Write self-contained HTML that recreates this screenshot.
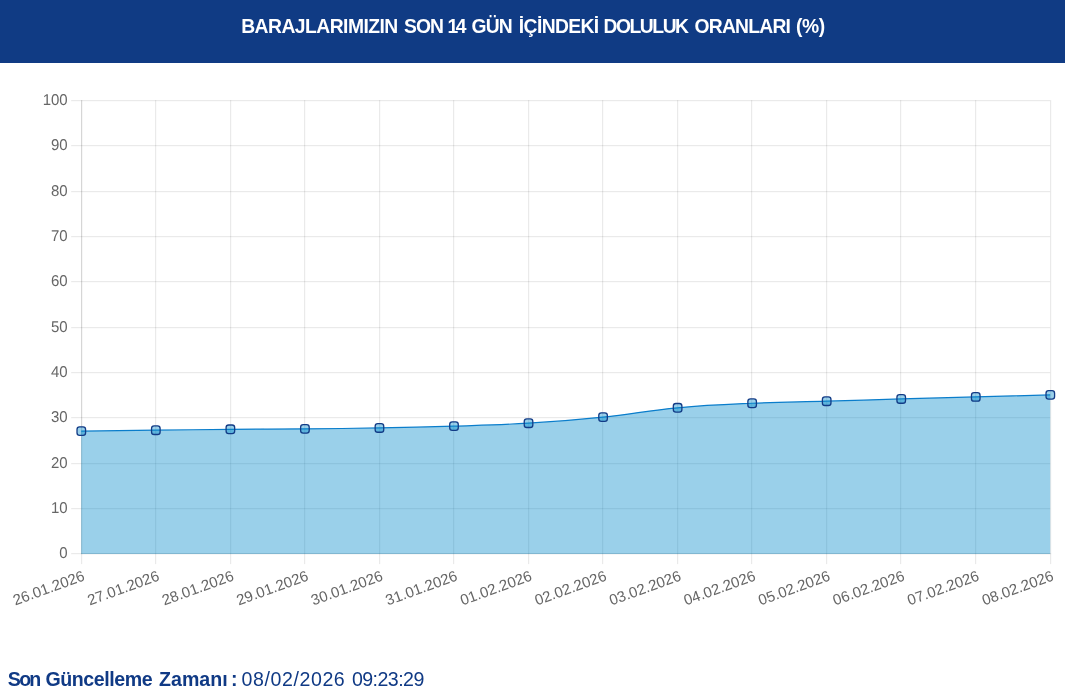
<!DOCTYPE html>
<html lang="tr"><head><meta charset="utf-8"><title>Baraj Doluluk Oranları</title>
<style>
html,body{margin:0;padding:0;background:#fff;}
body{width:1065px;height:695px;position:relative;overflow:hidden;font-family:"Liberation Sans",Arial,sans-serif;}
.hdr{position:absolute;left:0;top:0;width:1065px;height:63px;background:#103b84;color:#fff;font-weight:bold;font-size:19.3px;line-height:63px;white-space:nowrap;}
.hdr span{position:absolute;top:-5px;}
.ftr{position:absolute;left:0;top:667px;width:1065px;height:24px;color:#103a85;font-size:19.6px;line-height:24px;white-space:nowrap;}
.ftr b,.ftr span{position:absolute;top:0;}
.ftr b{font-weight:bold;}
</style></head><body>
<div class="hdr"><span style="left:241.20px;letter-spacing:-0.523px">BARAJLARIMIZIN</span> <span style="left:403.90px;letter-spacing:-0.85px">SON</span> <span style="left:447.55px;letter-spacing:-2.6px">14</span> <span style="left:471.50px;letter-spacing:-0.85px">GÜN</span> <span style="left:518.80px;letter-spacing:-0.6px">İÇİNDEKİ</span> <span style="left:603.40px;letter-spacing:-1.433px">DOLULUK</span> <span style="left:694.50px;letter-spacing:-0.757px">ORANLARI</span> <span style="left:796.10px;letter-spacing:-0.45px">(%)</span></div>
<svg width="1065" height="560" viewBox="0 70 1065 560" style="position:absolute;left:0;top:70px">
<g transform="translate(0.2 0.2)">
<g stroke-width="1" fill="none" stroke="rgba(0,0,0,0.1)"><path d="M71 553.5 H1050"/><path d="M71 508.5 H1050"/><path d="M71 463.5 H1050"/><path d="M71 417.5 H1050"/><path d="M71 372.5 H1050"/><path d="M71 327.5 H1050"/><path d="M71 281.5 H1050"/><path d="M71 236.5 H1050"/><path d="M71 191.5 H1050"/><path d="M71 145.5 H1050"/><path d="M71 100.5 H1050"/><path d="M81.5 100 V563.9"/><path d="M155.5 100 V563.9"/><path d="M230.5 100 V563.9"/><path d="M304.5 100 V563.9"/><path d="M379.5 100 V563.9"/><path d="M453.5 100 V563.9"/><path d="M528.5 100 V563.9"/><path d="M602.5 100 V563.9"/><path d="M677.5 100 V563.9"/><path d="M751.5 100 V563.9"/><path d="M826.5 100 V563.9"/><path d="M900.5 100 V563.9"/><path d="M975.5 100 V563.9"/><path d="M1050.5 100 V563.9"/><path d="M81.5 100 V554"/><path d="M81 553.5 H1051"/></g>
<path d="M81.00 430.92 C110.82 430.55 125.72 430.37 155.54 430.01 C185.35 429.65 200.26 429.38 230.08 429.10 C259.89 428.83 274.80 428.92 304.62 428.65 C334.43 428.38 349.34 428.29 379.15 427.75 C408.97 427.20 423.88 426.88 453.69 425.93 C483.51 424.98 498.45 424.80 528.23 422.99 C558.08 421.17 573.02 419.95 602.77 416.87 C632.65 413.79 647.40 410.36 677.31 407.59 C707.04 404.83 722.01 404.37 751.85 403.06 C781.64 401.74 796.57 401.88 826.38 401.02 C856.20 400.16 871.11 399.61 900.92 398.75 C930.74 397.89 945.65 397.53 975.46 396.72 C1005.28 395.90 1020.18 395.49 1050.00 394.68 L1050.00 553.85 L81.00 553.85 Z" fill="rgba(2,137,203,0.4)"/>
<path d="M81.00 430.92 C110.82 430.55 125.72 430.37 155.54 430.01 C185.35 429.65 200.26 429.38 230.08 429.10 C259.89 428.83 274.80 428.92 304.62 428.65 C334.43 428.38 349.34 428.29 379.15 427.75 C408.97 427.20 423.88 426.88 453.69 425.93 C483.51 424.98 498.45 424.80 528.23 422.99 C558.08 421.17 573.02 419.95 602.77 416.87 C632.65 413.79 647.40 410.36 677.31 407.59 C707.04 404.83 722.01 404.37 751.85 403.06 C781.64 401.74 796.57 401.88 826.38 401.02 C856.20 400.16 871.11 399.61 900.92 398.75 C930.74 397.89 945.65 397.53 975.46 396.72 C1005.28 395.90 1020.18 395.49 1050.00 394.68" fill="none" stroke="#0a7dcb" stroke-width="1.2"/>
<g fill="rgba(2,137,203,0.4)" stroke="#123b86" stroke-width="1.3"><rect x="76.81" y="426.63" width="8.58" height="8.58" rx="2.58"/><rect x="151.35" y="425.72" width="8.58" height="8.58" rx="2.58"/><rect x="225.89" y="424.81" width="8.58" height="8.58" rx="2.58"/><rect x="300.43" y="424.36" width="8.58" height="8.58" rx="2.58"/><rect x="374.96" y="423.46" width="8.58" height="8.58" rx="2.58"/><rect x="449.50" y="421.64" width="8.58" height="8.58" rx="2.58"/><rect x="524.04" y="418.70" width="8.58" height="8.58" rx="2.58"/><rect x="598.58" y="412.58" width="8.58" height="8.58" rx="2.58"/><rect x="673.12" y="403.30" width="8.58" height="8.58" rx="2.58"/><rect x="747.66" y="398.77" width="8.58" height="8.58" rx="2.58"/><rect x="822.19" y="396.73" width="8.58" height="8.58" rx="2.58"/><rect x="896.73" y="394.46" width="8.58" height="8.58" rx="2.58"/><rect x="971.27" y="392.43" width="8.58" height="8.58" rx="2.58"/><rect x="1045.81" y="390.39" width="8.58" height="8.58" rx="2.58"/></g>
<g font-family="'Liberation Sans', Arial, sans-serif" font-size="15" fill="#666" text-rendering="geometricPrecision"><text transform="translate(67.5 557.50) scale(1 1.04)" text-anchor="end">0</text><text transform="translate(67.5 512.50) scale(1 1.04)" text-anchor="end">10</text><text transform="translate(67.5 467.50) scale(1 1.04)" text-anchor="end">20</text><text transform="translate(67.5 421.50) scale(1 1.04)" text-anchor="end">30</text><text transform="translate(67.5 376.50) scale(1 1.04)" text-anchor="end">40</text><text transform="translate(67.5 331.50) scale(1 1.04)" text-anchor="end">50</text><text transform="translate(67.5 285.50) scale(1 1.04)" text-anchor="end">60</text><text transform="translate(67.5 240.50) scale(1 1.04)" text-anchor="end">70</text><text transform="translate(67.5 195.50) scale(1 1.04)" text-anchor="end">80</text><text transform="translate(67.5 149.50) scale(1 1.04)" text-anchor="end">90</text><text transform="translate(67.5 104.50) scale(1 1.04)" text-anchor="end">100</text><text transform="translate(83.80 575) rotate(-20)" text-anchor="end" y="5">26.01.2026</text><text transform="translate(158.34 575) rotate(-20)" text-anchor="end" y="5">27.01.2026</text><text transform="translate(232.88 575) rotate(-20)" text-anchor="end" y="5">28.01.2026</text><text transform="translate(307.42 575) rotate(-20)" text-anchor="end" y="5">29.01.2026</text><text transform="translate(381.95 575) rotate(-20)" text-anchor="end" y="5">30.01.2026</text><text transform="translate(456.49 575) rotate(-20)" text-anchor="end" y="5">31.01.2026</text><text transform="translate(531.03 575) rotate(-20)" text-anchor="end" y="5">01.02.2026</text><text transform="translate(605.57 575) rotate(-20)" text-anchor="end" y="5">02.02.2026</text><text transform="translate(680.11 575) rotate(-20)" text-anchor="end" y="5">03.02.2026</text><text transform="translate(754.65 575) rotate(-20)" text-anchor="end" y="5">04.02.2026</text><text transform="translate(829.18 575) rotate(-20)" text-anchor="end" y="5">05.02.2026</text><text transform="translate(903.72 575) rotate(-20)" text-anchor="end" y="5">06.02.2026</text><text transform="translate(978.26 575) rotate(-20)" text-anchor="end" y="5">07.02.2026</text><text transform="translate(1052.80 575) rotate(-20)" text-anchor="end" y="5">08.02.2026</text></g>
</g></svg>
<div class="ftr"><b style="left:7.85px;letter-spacing:-1.775px">Son</b> <b style="left:45.50px;letter-spacing:-0.444px">Güncelleme</b> <b style="left:159.00px;letter-spacing:0.02px">Zamanı</b> <b style="left:231.00px;letter-spacing:0px">:</b> <span style="left:241.60px;letter-spacing:0.567px">08/02/2026</span> <span style="left:351.90px;letter-spacing:-0.543px">09:23:29</span></div>
</body></html>
